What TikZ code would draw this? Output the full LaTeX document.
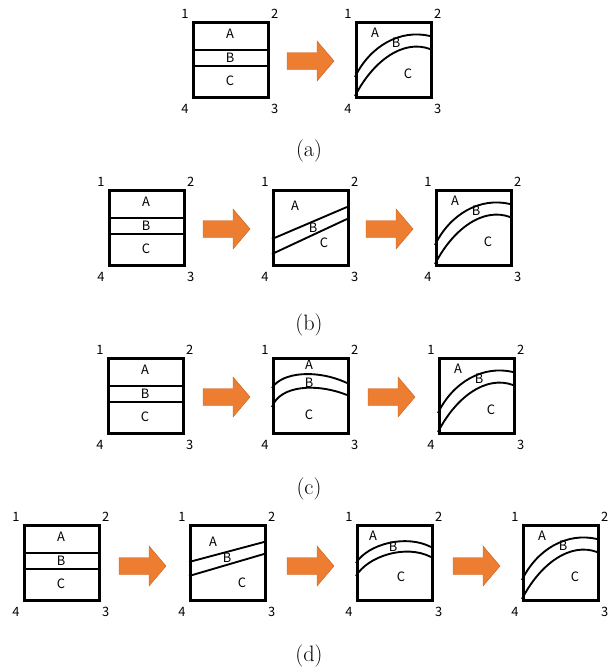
\documentclass[tikz,border=0pt]{standalone}
\usepackage{fontspec}
\newfontfamily\gothic{Noto Sans CJK JP}
\usepackage{xcolor}
\definecolor{arroworange}{RGB}{237,125,49}
\definecolor{arrowedge}{RGB}{205,100,35}
\usepackage{tikz}
\usetikzlibrary{calc}

\tikzset{
  panelbox/.style={draw,line width=2.2pt,minimum size=2.25cm,inner sep=0pt,anchor=north west},
  seam/.style={line width=1.6pt},
  tag/.style={font=\gothic\fontsize{11}{13}\selectfont,inner sep=0pt},
  fatarrow/.style={fill=arroworange,draw=arrowedge,line width=0.4pt},
  caption/.style={font=\fontsize{19}{22}\selectfont,inner sep=0pt}
}

% square with its corner numbers; #1 name, (#2,#3) top left corner
\newcommand{\panel}[3]{%
  \node[panelbox] (#1) at (#2,#3) {};
  \node[tag] (#1-1) at ($(#1.north west)+(-7,-7)$) {1};
  \node[tag] (#1-2) at ($(#1.north east)+(5,-7)$) {2};
  \node[tag] (#1-3) at ($(#1.south east)+(5,10)$) {3};
  \node[tag] (#1-4) at ($(#1.south west)+(-7,10)$) {4};
}
% flat layers
\newcommand{\flatlayers}[3]{%
  \panel{#1}{#2}{#3}
  \begin{scope}[shift={(#1.north west)}]
    \draw[seam] (0,29) -- (75,29);
    \draw[seam] (0,45) -- (75,45);
    \node[tag] (#1-A) at (38,13) {A};
    \node[tag] (#1-B) at (38,37) {B};
    \node[tag] (#1-C) at (38,60) {C};
  \end{scope}
}
% final fold
\newcommand{\foldlayers}[3]{%
  \panel{#1}{#2}{#3}
  \begin{scope}[shift={(#1.north west)}]
    \draw[seam] (0,56) .. controls (15,25) and (45,8) .. (75,15);
    \draw[seam] (0,75) .. controls (18,40) and (48,18) .. (75,28);
    \node[tag] (#1-A) at (20,12) {A};
    \node[tag] (#1-B) at (41,22) {B};
    \node[tag] (#1-C) at (53,53) {C};
  \end{scope}
}
% block arrow; #1 name, (#2,#3) left end, middle height
\newcommand{\blockarrow}[3]{%
  \coordinate (#1) at (#2,#3);
  \filldraw[fatarrow] (#1) ++(0,-8.5) -- ++(30,0) -- ++(0,-11.5) -- ++(17,20)
    -- ++(-17,20) -- ++(0,-11.5) -- ++(-30,0) -- cycle;
}

\begin{document}
\begin{tikzpicture}[x=0.03cm,y=-0.03cm]
  \useasboundingbox (0,0) rectangle (616,668);

  % (a)
  \flatlayers{a1}{192}{21}
  \blockarrow{aar}{287}{61}
  \foldlayers{a2}{355}{21}
  \node[caption] (capa) at (309,151) {(a)};

  % (b)
  \flatlayers{b1}{108}{189}
  \blockarrow{bar1}{203}{229}
  \panel{b2}{272}{189}
  \begin{scope}[shift={(b2.north west)}]
    \draw[seam] (0,50) -- (75,18);
    \draw[seam] (0,65) -- (75,30);
    \node[tag] (b2-A) at (23,17) {A};
    \node[tag] (b2-B) at (41,39) {B};
    \node[tag] (b2-C) at (52,54) {C};
  \end{scope}
  \blockarrow{bar2}{366}{229}
  \foldlayers{b3}{435}{189}
  \node[caption] (capb) at (309,325) {(b)};

  % (c)
  \flatlayers{c1}{107}{357}
  \blockarrow{car1}{203}{397}
  \panel{c2}{272}{357}
  \begin{scope}[shift={(c2.north west)}]
    \draw[seam] (0,31) .. controls (10,15) and (45,12) .. (75,26);
    \draw[seam] (0,50) .. controls (8,28) and (45,26) .. (75,38);
    \node[tag] (c2-A) at (37,8) {A};
    \node[tag] (c2-B) at (37,26) {B};
    \node[tag] (c2-C) at (37,58) {C};
  \end{scope}
  \blockarrow{car2}{368}{397}
  \foldlayers{c3}{438}{357}
  \node[caption] (capc) at (309,489) {(c)};

  % (d)
  \flatlayers{d1}{23}{524}
  \blockarrow{dar1}{119}{566}
  \panel{d2}{189}{524}
  \begin{scope}[shift={(d2.north west)}]
    \draw[seam] (0,38) -- (75,18);
    \draw[seam] (0,52) -- (75,30);
    \node[tag] (d2-A) at (24,18) {A};
    \node[tag] (d2-B) at (38,34) {B};
    \node[tag] (d2-C) at (53,59) {C};
  \end{scope}
  \blockarrow{dar2}{287}{566}
  \panel{d3}{356}{524}
  \begin{scope}[shift={(d3.north west)}]
    \draw[seam] (0,39) .. controls (12,20) and (50,10) .. (75,23);
    \draw[seam] (0,52) .. controls (12,32) and (50,20) .. (75,33);
    \node[tag] (d3-A) at (17,12) {A};
    \node[tag] (d3-B) at (37,23) {B};
    \node[tag] (d3-C) at (45,53) {C};
  \end{scope}
  \blockarrow{dar3}{453}{566}
  \foldlayers{d4}{522}{524}
  \node[caption] (capd) at (309,656) {(d)};
\end{tikzpicture}
\end{document}
